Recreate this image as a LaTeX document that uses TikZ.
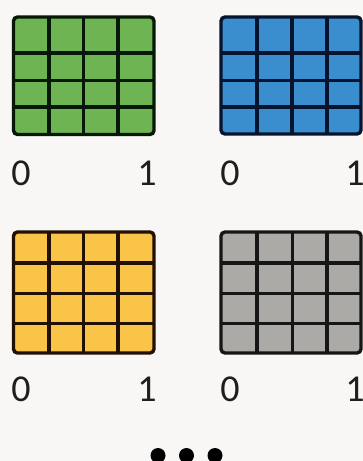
\documentclass[tikz,border=0pt]{standalone}
\usepackage{fontspec}
\setmainfont{Carlito}
\definecolor{bg}{RGB}{248,247,245}
\definecolor{cgreen}{RGB}{110,180,82}
\definecolor{lgreen}{RGB}{8,24,8}
\definecolor{cblue}{RGB}{58,142,206}
\definecolor{lblue}{RGB}{6,20,46}
\definecolor{cyellow}{RGB}{250,196,72}
\definecolor{lyellow}{RGB}{34,16,2}
\definecolor{cgray}{RGB}{172,170,167}
\definecolor{lgray}{RGB}{22,22,22}
\definecolor{txt}{RGB}{30,30,30}
\tikzset{
  gridbox/.style={line width=3.4pt, rounded corners=4pt},
  gridline/.style={line width=3.4pt},
  lbl/.style={font=\fontsize{38}{40}\selectfont, text=txt, inner sep=0pt, anchor=center},
  dotstyle/.style={fill=black, draw=none}
}
\begin{document}
\begin{tikzpicture}[x=1pt,y=-1pt]
\useasboundingbox[fill=bg] (0,0) rectangle (363,461);
% green
\draw[gridbox, fill=cgreen, draw=lgreen] (13.5,17) rectangle (154,134.5);
\foreach \x in {49,83.5,118} \draw[gridline, lgreen] (\x,17) -- (\x,134.5);
\foreach \y in {53,80.5,107} \draw[gridline, lgreen] (13.5,\y) -- (154,\y);
\node[lbl] (g0) at (21,173) {0};
\node[lbl] (g1) at (147,173) {1};
% blue
\draw[gridbox, fill=cblue, draw=lblue] (221,17) rectangle (361,134);
\foreach \x in {257,292,327} \draw[gridline, lblue] (\x,17) -- (\x,134);
\foreach \y in {53,80.5,107} \draw[gridline, lblue] (221,\y) -- (361,\y);
\node[lbl] (b0) at (230,173) {0};
\node[lbl] (b1) at (355,173) {1};
% yellow
\draw[gridbox, fill=cyellow, draw=lyellow] (13.5,232) rectangle (154,353);
\foreach \x in {49,83.5,118} \draw[gridline, lyellow] (\x,232) -- (\x,353);
\foreach \y in {263,293.5,323.5} \draw[gridline, lyellow] (13.5,\y) -- (154,\y);
\node[lbl] (y0) at (21,389) {0};
\node[lbl] (y1) at (147,389) {1};
% gray
\draw[gridbox, fill=cgray, draw=lgray] (221,232) rectangle (361,353);
\foreach \x in {257,292.5,327} \draw[gridline, lgray] (\x,232) -- (\x,353);
\foreach \y in {263,293.5,323.5} \draw[gridline, lgray] (221,\y) -- (361,\y);
\node[lbl] (r0) at (230,389) {0};
\node[lbl] (r1) at (355,389) {1};
% dots
\fill[dotstyle] (158,455.5) circle (7.5);
\fill[dotstyle] (186.5,455.5) circle (7.5);
\fill[dotstyle] (215,455.5) circle (7.5);
\end{tikzpicture}
\end{document}
